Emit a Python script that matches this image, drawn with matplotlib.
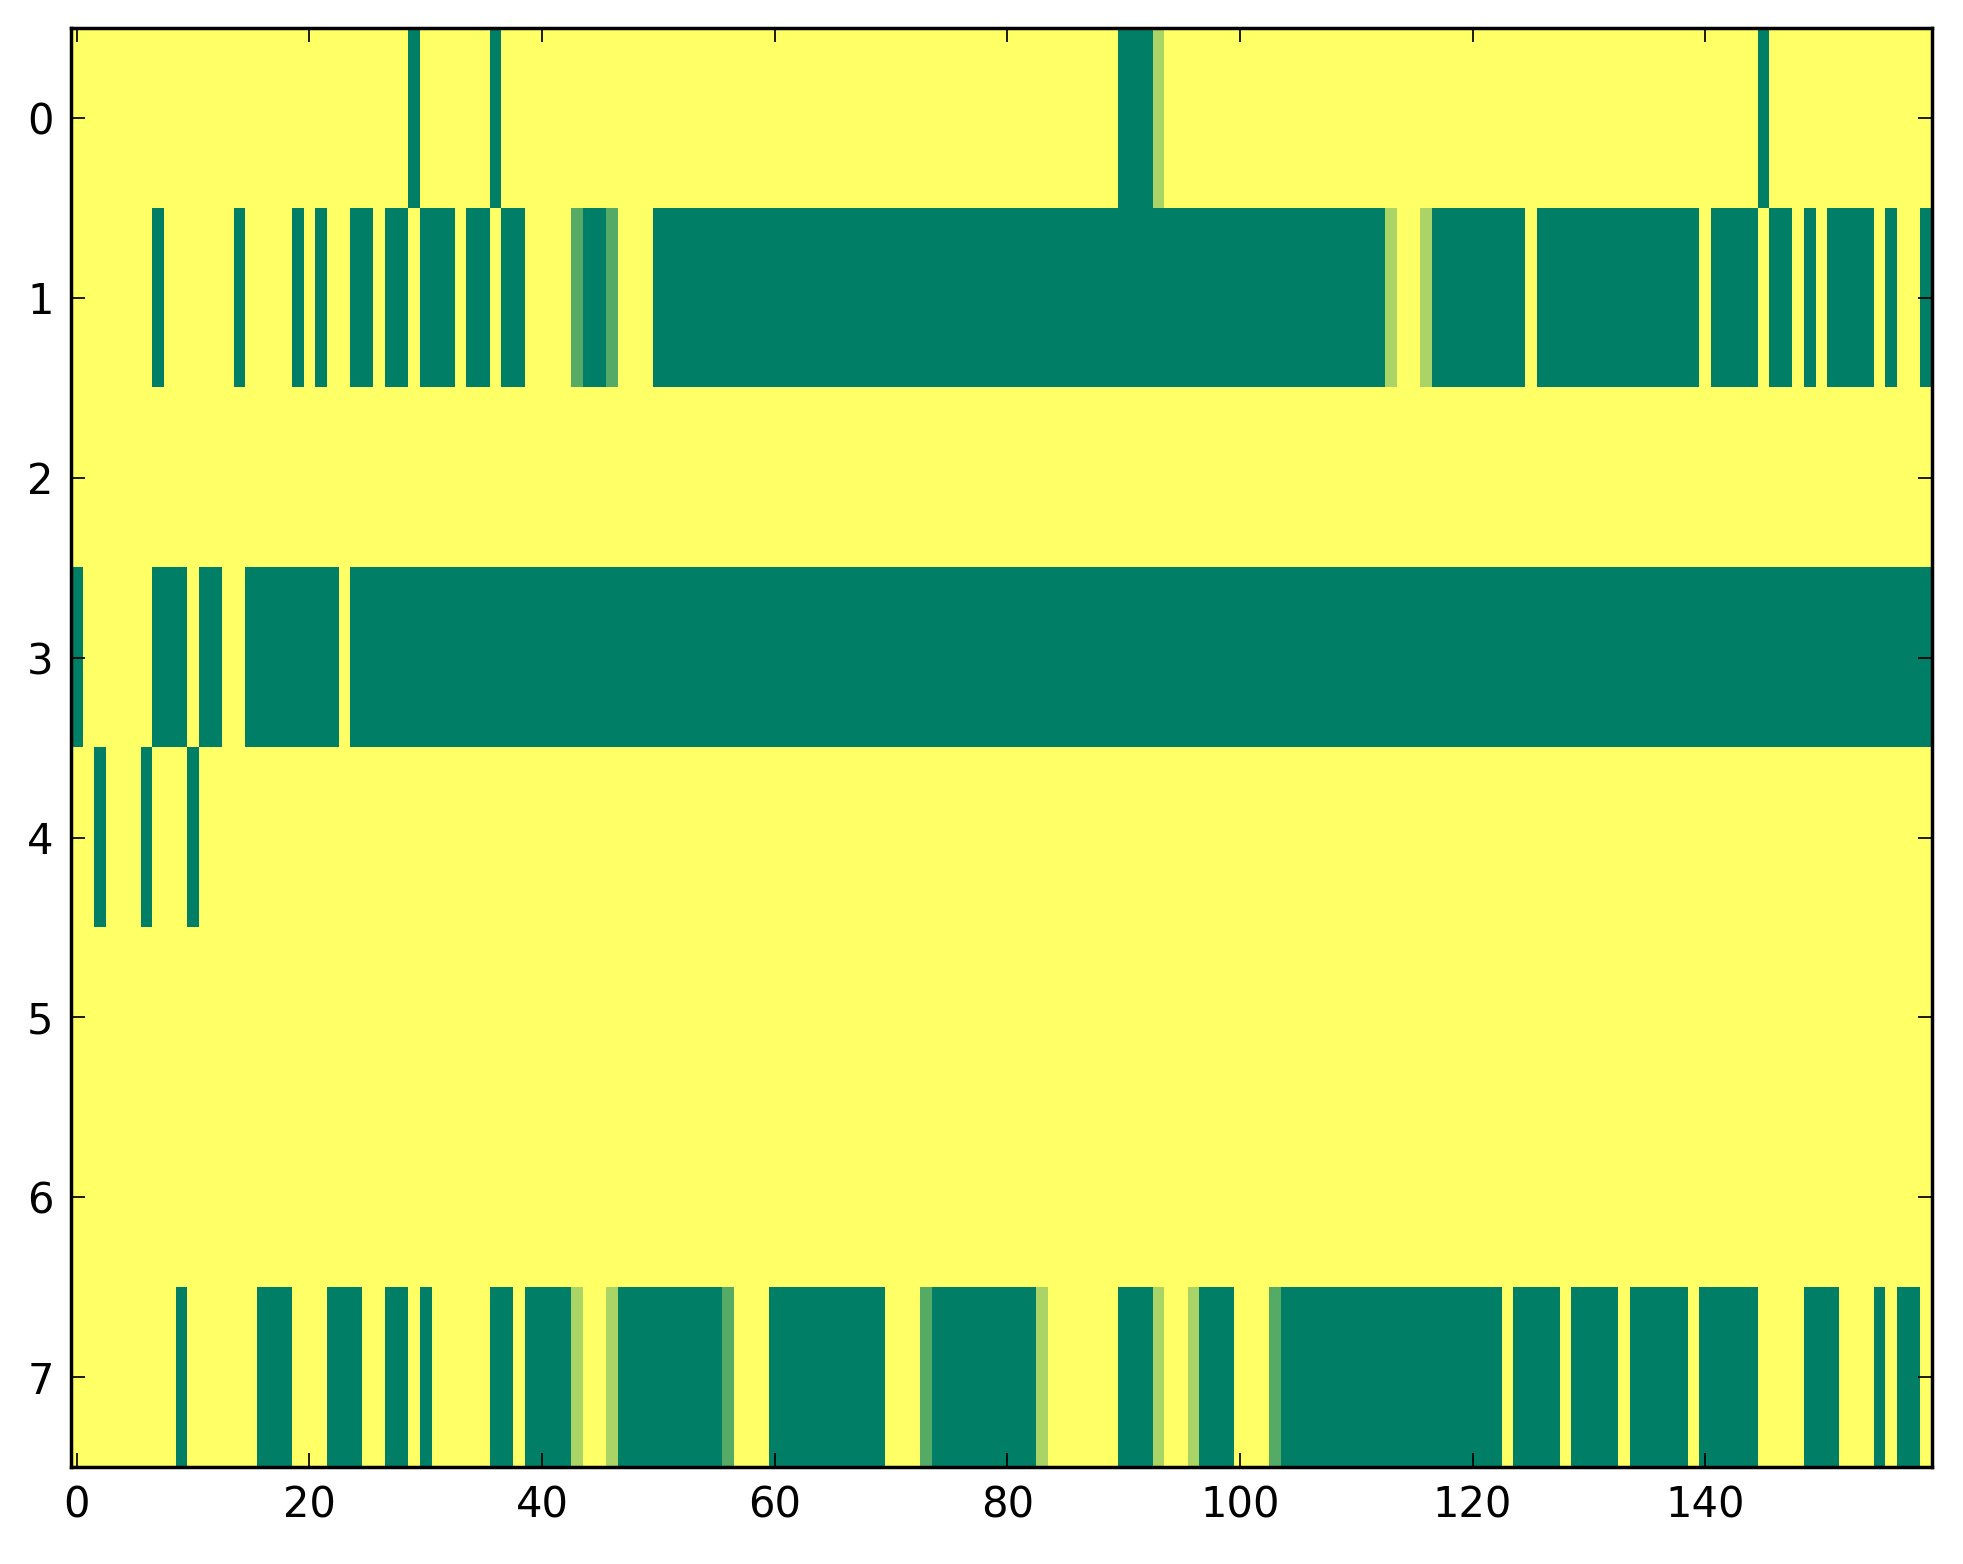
import numpy as np
import matplotlib
matplotlib.use("Agg")
import matplotlib.pyplot as plt

# one string per row, one character per column:
# 0 -> 0, 1 -> 1/3, 2 -> 2/3, 3 -> 1
row0 = ("0000000000" "0000000000" "0000000003" "0000003000"
        "0000000000" "0000000000" "0000000000" "0000000000"
        "0000000000" "3331000000" "0000000000" "0000000000"
        "0000000000" "0000000000" "0000030000" "0000000000")
row1 = ("0000000300" "0000300003" "0300330330" "3330330330"
        "0002332000" "3333333333" "3333333333" "3333333333"
        "3333333333" "3333333333" "3333333333" "3331001333"
        "3333303333" "3333333333" "0333303303" "0333303003")
row2 = "0" * 160
row3 = ("3000000333" "0330033333" "3330333333" + "3" * 130)
row4 = ("0030003000" "3000000000" + "0" * 140)
row5 = "0" * 160
row6 = "0" * 160
row7 = ("0000000003" "0000003330" "0033300330" "3000003303"
        "3331001333" "3333332000" "3333333333" "0002333333"
        "3331000000" "3331001333" "0002333333" "3333333333"
        "3330333303" "3330333330" "3333300003" "3300030330")

rows = [row0, row1, row2, row3, row4, row5, row6, row7]
data = np.array([[int(ch) / 3.0 for ch in r] for r in rows])

xticks = [0, 20, 40, 60, 80, 100, 120, 140]
yticks = [0, 1, 2, 3, 4, 5, 6, 7]

plt.rcParams['font.family'] = ['DejaVu Sans']
plt.rcParams['xtick.direction'] = 'in'
plt.rcParams['ytick.direction'] = 'in'
plt.rcParams['xtick.top'] = True
plt.rcParams['ytick.right'] = True
plt.rcParams['xtick.major.size'] = 4
plt.rcParams['ytick.major.size'] = 4
plt.rcParams['xtick.major.width'] = 0.5
plt.rcParams['ytick.major.width'] = 0.5
plt.rcParams['axes.linewidth'] = 1.0

fig = plt.figure(figsize=(1963 / 250, 1564 / 250), dpi=250)
ax = fig.add_axes([0.0362, 0.062, 0.948, 0.920])
ax.imshow(data, cmap='summer_r', vmin=0, vmax=1, aspect='auto', interpolation='nearest')
ax.set_xticks(xticks)
ax.set_yticks(yticks)
ax.tick_params(labelsize=12, pad=5)

fig.savefig('out.png', dpi=250)
